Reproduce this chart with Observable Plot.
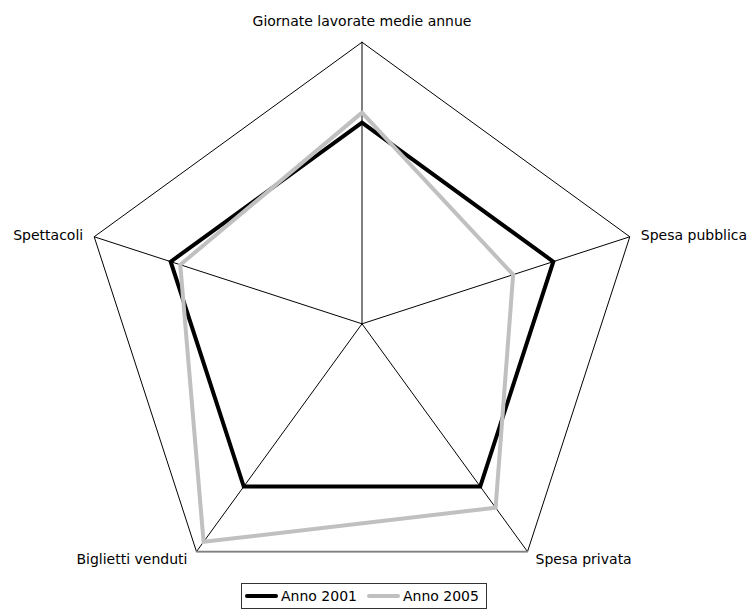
<!DOCTYPE html>
<html>
<head>
<meta charset="utf-8">
<script src="https://cdn.jsdelivr.net/npm/d3@7"></script>
<script src="https://cdn.jsdelivr.net/npm/@observablehq/plot@0.6"></script>
<style>
  html, body { margin: 0; padding: 0; background: #fff; }
  body { width: 751px; height: 609px; overflow: hidden; font-family: "DejaVu Sans", sans-serif; }
  #chart svg { display: block; }
  #legend {
    position: absolute; left: 241px; top: 583px;
    border: 1px solid #333; background: #fff;
    display: flex; align-items: center; height: 24px; padding: 0 7px 0 3px;
    font-size: 14px; color: #000; white-space: nowrap;
  }
  .sw { display: inline-block; width: 33px; height: 4px; border-radius: 2px; margin-right: 3px; }
  .item { display: flex; align-items: center; margin-right: 10px; }
  .item:last-child { margin-right: 0; }
</style>
</head>
<body>
<div id="chart"></div>
<div id="legend"></div>
<script>
const categories = ["Giornate lavorate medie annue", "Spesa pubblica", "Spesa privata", "Biglietti venduti", "Spettacoli"];
const series = ["Anno 2001", "Anno 2005"];
const anno2001 = [100, 100, 100, 100, 100];
const anno2005 = [105, 79, 113, 134, 95];
const scaleMax = 140;
const colors = ["#000000", "#c0c0c0"];

const n = categories.length;
const ang = i => (i * 2 * Math.PI) / n;
const px = (i, v) => v * Math.sin(ang(i));
const py = (i, v) => v * Math.cos(ang(i));

const cx = 361.5, cy = 323.3, R = 281.6;

const rim = categories.map((c, i) => ({ c, i, x: px(i, scaleMax), y: py(i, scaleMax) }));
const rimClosed = [...rim, rim[0]];

const vals = [anno2001, anno2005];
const pts = [];
series.forEach((s, k) => {
  const arr = vals[k];
  for (let j = 0; j <= n; j++) {
    const i = j % n;
    pts.push({ s, i, x: px(i, arr[i]), y: py(i, arr[i]) });
  }
});

const labelOffsets = [
  { anchor: "middle", dx: 0, dy: -21 },
  { anchor: "start", dx: 11, dy: -1 },
  { anchor: "start", dx: 8, dy: 8 },
  { anchor: "end", dx: -9, dy: 8 },
  { anchor: "end", dx: -11, dy: -1 }
];

const labelMarks = rim.map((r, i) => Plot.text([r], {
  x: "x", y: "y", text: "c",
  textAnchor: labelOffsets[i].anchor,
  dx: labelOffsets[i].dx, dy: labelOffsets[i].dy,
  fontSize: 14, fill: "#000"
}));

const chart = Plot.plot({
  width: 751,
  height: 582,
  margin: 0,
  style: { fontFamily: "DejaVu Sans, sans-serif", background: "#fff" },
  x: { domain: [-scaleMax, scaleMax], range: [cx - R, cx + R], axis: null },
  y: { domain: [-scaleMax, scaleMax], range: [cy + R, cy - R], axis: null },
  color: { domain: series, range: colors },
  marks: [
    Plot.link(rim, { x1: 0, y1: 0, x2: "x", y2: "y", stroke: "#000", strokeWidth: 1 }),
    Plot.line(rimClosed, { x: "x", y: "y", stroke: "#000", strokeWidth: 1, strokeLinejoin: "miter" }),
    Plot.line(rimClosed.slice(2, 4), { x: "x", y: "y", stroke: "#808080", strokeWidth: 1.6 }),
    Plot.line(pts, { x: "x", y: "y", z: "s", stroke: "s", strokeWidth: 4, strokeLinejoin: "miter", strokeMiterlimit: 10 }),
    ...labelMarks
  ]
});
document.getElementById("chart").appendChild(chart);

const legend = document.getElementById("legend");
series.forEach((s, k) => {
  const item = document.createElement("div");
  item.className = "item";
  const sw = document.createElement("span");
  sw.className = "sw";
  sw.style.background = colors[k];
  const t = document.createElement("span");
  t.textContent = s;
  item.appendChild(sw);
  item.appendChild(t);
  legend.appendChild(item);
});
</script>
</body>
</html>
